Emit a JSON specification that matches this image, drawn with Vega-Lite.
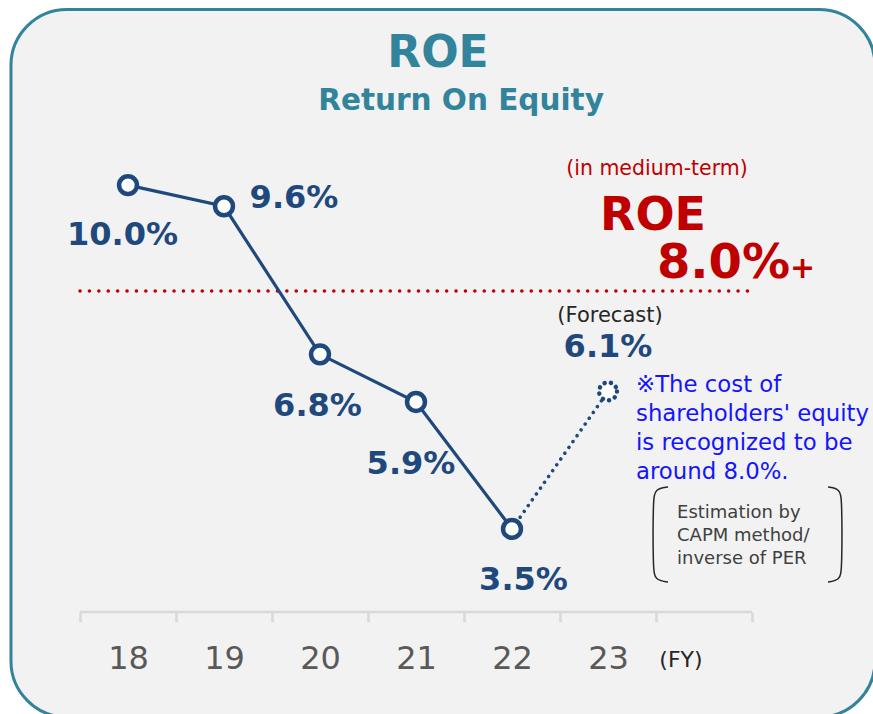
{
  "$schema": "https://vega.github.io/schema/vega-lite/v6.json",
  "width": 873,
  "height": 714,
  "autosize": {"type": "fit", "contains": "padding"},
  "padding": 0,
  "background": "#ffffff",
  "config": {"view": {"stroke": null}, "font": "DejaVu Sans"},
  "datasets": {
    "roe": [
      {"fy": 18, "roe": 10.0, "label": "10.0%"},
      {"fy": 19, "roe": 9.6, "label": "9.6%"},
      {"fy": 20, "roe": 6.8, "label": "6.8%"},
      {"fy": 21, "roe": 5.9, "label": "5.9%"},
      {"fy": 22, "roe": 3.5, "label": "3.5%"},
      {"fy": 23, "roe": 6.1, "label": "6.1%"}
    ],
    "one": [{"k": 1}]
  },
  "data": {"name": "roe"},
  "layer": [
    {
      "data": {"name": "one"},
      "mark": {"type": "rect", "cornerRadius": 56, "fill": "#f2f2f2", "stroke": "#31849b", "strokeWidth": 3, "clip": true},
      "encoding": {
        "x": {"datum": 16.781, "type": "quantitative", "scale": {"domain": [16.666667, 25.760417], "nice": false, "zero": false}},
        "x2": {"datum": 25.781},
        "y": {"datum": 13.32, "type": "quantitative", "scale": {"domain": [0, 13.5], "nice": false, "zero": false}, "axis": null},
        "y2": {"datum": -0.057}
      }
    },
    {
      "data": {"name": "one"},
      "mark": {"type": "rule", "stroke": "#d9d9d9", "strokeWidth": 2.5},
      "encoding": {
        "x": {"datum": 17.5, "type": "quantitative"},
        "x2": {"datum": 24.5},
        "y": {"datum": 1.9286, "type": "quantitative", "axis": null}
      }
    },
    {
      "data": {"name": "one"},
      "mark": {"type": "rule", "stroke": "#c00000", "strokeWidth": 3.5, "strokeDash": [0.1, 9.3], "strokeCap": "round"},
      "encoding": {
        "x": {"datum": 17.5, "type": "quantitative"},
        "x2": {"datum": 24.5},
        "y": {"datum": 8, "type": "quantitative", "axis": null}
      }
    },
    {
      "transform": [{"filter": "datum.fy <= 22"}],
      "mark": {"type": "line", "stroke": "#1f497d", "strokeWidth": 3.2},
      "encoding": {
        "x": {
          "field": "fy",
          "type": "quantitative",
          "axis": {
            "values": [18, 19, 20, 21, 22, 23, 24, 25],
            "format": "d",
            "tickOffset": -48,
            "labelOffset": 48,
            "labelExpr": "datum.value <= 23 ? datum.label : ''",
            "offset": -102,
            "zindex": 1,
            "domain": false,
            "grid": false,
            "ticks": true,
            "tickSize": 10,
            "tickColor": "#d9d9d9",
            "tickWidth": 2.5,
            "labelFontSize": 32,
            "labelColor": "#595959",
            "labelFont": "DejaVu Sans",
            "labelPadding": 46,
            "labelBaseline": "alphabetic",
            "labelFlush": false,
            "labelOverlap": false,
            "labelBound": false,
            "title": null
          }
        },
        "y": {"field": "roe", "type": "quantitative", "axis": null}
      }
    },
    {
      "transform": [{"filter": "datum.fy >= 22"}],
      "mark": {"type": "line", "stroke": "#1f497d", "strokeWidth": 3.5, "strokeDash": [0.1, 7], "strokeCap": "round"},
      "encoding": {
        "x": {"field": "fy", "type": "quantitative"},
        "y": {"field": "roe", "type": "quantitative", "axis": null}
      }
    },
    {
      "transform": [{"filter": "datum.fy <= 22"}],
      "mark": {"type": "point", "filled": true, "fill": "#ffffff", "stroke": "#1f497d", "strokeWidth": 4.5, "size": 320, "opacity": 1},
      "encoding": {
        "x": {"field": "fy", "type": "quantitative"},
        "y": {"field": "roe", "type": "quantitative", "axis": null}
      }
    },
    {
      "transform": [{"filter": "datum.fy == 23"}],
      "mark": {"type": "point", "filled": true, "fill": "#ffffff", "stroke": "#1f497d", "strokeWidth": 4.5, "size": 320, "opacity": 1, "strokeDash": [0.1, 6.3], "strokeCap": "round"},
      "encoding": {
        "x": {"field": "fy", "type": "quantitative"},
        "y": {"field": "roe", "type": "quantitative", "axis": null}
      }
    },
    {
      "transform": [{"filter": "datum.fy == 18"}],
      "mark": {"type": "text", "font": "DejaVu Sans", "fontWeight": "bold", "fontSize": 32, "fill": "#1f497d", "align": "center", "baseline": "alphabetic", "dx": -5.5, "dy": 60},
      "encoding": {
        "x": {"field": "fy", "type": "quantitative"},
        "y": {"field": "roe", "type": "quantitative", "axis": null},
        "text": {"field": "label"}
      }
    },
    {
      "transform": [{"filter": "datum.fy == 19"}],
      "mark": {"type": "text", "font": "DejaVu Sans", "fontWeight": "bold", "fontSize": 32, "fill": "#1f497d", "align": "center", "baseline": "alphabetic", "dx": 70, "dy": 2},
      "encoding": {
        "x": {"field": "fy", "type": "quantitative"},
        "y": {"field": "roe", "type": "quantitative", "axis": null},
        "text": {"field": "label"}
      }
    },
    {
      "transform": [{"filter": "datum.fy == 20"}],
      "mark": {"type": "text", "font": "DejaVu Sans", "fontWeight": "bold", "fontSize": 32, "fill": "#1f497d", "align": "center", "baseline": "alphabetic", "dx": -2.5, "dy": 61.5},
      "encoding": {
        "x": {"field": "fy", "type": "quantitative"},
        "y": {"field": "roe", "type": "quantitative", "axis": null},
        "text": {"field": "label"}
      }
    },
    {
      "transform": [{"filter": "datum.fy == 21"}],
      "mark": {"type": "text", "font": "DejaVu Sans", "fontWeight": "bold", "fontSize": 32, "fill": "#1f497d", "align": "center", "baseline": "alphabetic", "dx": -5, "dy": 72},
      "encoding": {
        "x": {"field": "fy", "type": "quantitative"},
        "y": {"field": "roe", "type": "quantitative", "axis": null},
        "text": {"field": "label"}
      }
    },
    {
      "transform": [{"filter": "datum.fy == 22"}],
      "mark": {"type": "text", "font": "DejaVu Sans", "fontWeight": "bold", "fontSize": 32, "fill": "#1f497d", "align": "center", "baseline": "alphabetic", "dx": 11.5, "dy": 61},
      "encoding": {
        "x": {"field": "fy", "type": "quantitative"},
        "y": {"field": "roe", "type": "quantitative", "axis": null},
        "text": {"field": "label"}
      }
    },
    {
      "transform": [{"filter": "datum.fy == 23"}],
      "mark": {"type": "text", "font": "DejaVu Sans", "fontWeight": "bold", "fontSize": 32, "fill": "#1f497d", "align": "center", "baseline": "alphabetic", "dx": 0, "dy": -34},
      "encoding": {
        "x": {"field": "fy", "type": "quantitative"},
        "y": {"field": "roe", "type": "quantitative", "axis": null},
        "text": {"field": "label"}
      }
    },
    {
      "transform": [{"filter": "datum.fy == 23"}],
      "mark": {"type": "text", "font": "DejaVu Sans", "fontSize": 21, "fill": "#262626", "align": "center", "baseline": "alphabetic", "dx": 2, "dy": -69, "text": "(Forecast)"},
      "encoding": {
        "x": {"field": "fy", "type": "quantitative"},
        "y": {"field": "roe", "type": "quantitative", "axis": null}
      }
    },
    {
      "data": {"name": "one"},
      "mark": {"type": "text", "font": "DejaVu Sans", "fontWeight": "bold", "fontSize": 44, "fill": "#31849b", "align": "center", "baseline": "alphabetic", "text": "ROE"},
      "encoding": {
        "x": {"datum": 21.229, "type": "quantitative"},
        "y": {"datum": 12.233, "type": "quantitative", "axis": null}
      }
    },
    {
      "data": {"name": "one"},
      "mark": {"type": "text", "font": "DejaVu Sans", "fontWeight": "bold", "fontSize": 29.5, "fill": "#31849b", "align": "center", "baseline": "alphabetic", "text": "Return On Equity"},
      "encoding": {
        "x": {"datum": 21.469, "type": "quantitative"},
        "y": {"datum": 11.42, "type": "quantitative", "axis": null}
      }
    },
    {
      "data": {"name": "one"},
      "mark": {"type": "text", "font": "DejaVu Sans", "fontSize": 20.5, "fill": "#c00000", "align": "center", "baseline": "alphabetic", "text": "(in medium-term)"},
      "encoding": {
        "x": {"datum": 23.51, "type": "quantitative"},
        "y": {"datum": 10.191, "type": "quantitative", "axis": null}
      }
    },
    {
      "data": {"name": "one"},
      "mark": {"type": "text", "font": "DejaVu Sans", "fontWeight": "bold", "fontSize": 46, "fill": "#c00000", "align": "center", "baseline": "alphabetic", "text": "ROE"},
      "encoding": {
        "x": {"datum": 23.469, "type": "quantitative"},
        "y": {"datum": 9.151, "type": "quantitative", "axis": null}
      }
    },
    {
      "data": {"name": "one"},
      "mark": {"type": "text", "font": "DejaVu Sans", "fontWeight": "bold", "fontSize": 48, "fill": "#c00000", "align": "right", "baseline": "alphabetic", "text": "8.0%"},
      "encoding": {
        "x": {"datum": 24.896, "type": "quantitative"},
        "y": {"datum": 8.244, "type": "quantitative", "axis": null}
      }
    },
    {
      "data": {"name": "one"},
      "mark": {"type": "text", "font": "DejaVu Sans", "fontWeight": "bold", "fontSize": 30, "fill": "#c00000", "align": "left", "baseline": "alphabetic", "text": "+"},
      "encoding": {
        "x": {"datum": 24.896, "type": "quantitative"},
        "y": {"datum": 8.244, "type": "quantitative", "axis": null}
      }
    },
    {
      "data": {"name": "one"},
      "mark": {"type": "text", "font": "DejaVu Sans", "fontSize": 22.8, "fill": "#1414ff", "align": "left", "baseline": "alphabetic", "lineHeight": 29, "text": ["※The cost of", "shareholders' equity", "is recognized to be", "around 8.0%."]},
      "encoding": {
        "x": {"datum": 23.292, "type": "quantitative"},
        "y": {"datum": 6.088, "type": "quantitative", "axis": null}
      }
    },
    {
      "data": {"name": "one"},
      "mark": {"type": "text", "font": "DejaVu Sans", "fontSize": 18, "fill": "#404040", "align": "left", "baseline": "alphabetic", "lineHeight": 23, "text": ["Estimation by", "CAPM method/", "inverse of PER"]},
      "encoding": {
        "x": {"datum": 23.719, "type": "quantitative"},
        "y": {"datum": 3.706, "type": "quantitative", "axis": null}
      }
    },
    {
      "data": {"values": [
        {"b": "L", "i": 0, "bx": 23.625, "by": 4.292},
        {"b": "L", "i": 1, "bx": 23.49, "by": 4.254},
        {"b": "L", "i": 2, "bx": 23.469, "by": 4.046},
        {"b": "L", "i": 3, "bx": 23.469, "by": 2.742},
        {"b": "L", "i": 4, "bx": 23.49, "by": 2.534},
        {"b": "L", "i": 5, "bx": 23.625, "by": 2.496},
        {"b": "R", "i": 0, "bx": 25.292, "by": 4.292},
        {"b": "R", "i": 1, "bx": 25.4167, "by": 4.254},
        {"b": "R", "i": 2, "bx": 25.4375, "by": 4.046},
        {"b": "R", "i": 3, "bx": 25.4375, "by": 2.742},
        {"b": "R", "i": 4, "bx": 25.4167, "by": 2.534},
        {"b": "R", "i": 5, "bx": 25.292, "by": 2.496}
      ]},
      "mark": {"type": "line", "stroke": "#262626", "strokeWidth": 1.5, "interpolate": "basis"},
      "encoding": {
        "x": {"field": "bx", "type": "quantitative"},
        "y": {"field": "by", "type": "quantitative", "axis": null},
        "detail": {"field": "b"},
        "order": {"field": "i"}
      }
    },
    {
      "data": {"name": "one"},
      "mark": {"type": "text", "font": "DejaVu Sans", "fontSize": 22, "fill": "#262626", "align": "center", "baseline": "alphabetic", "text": "(FY)"},
      "encoding": {
        "x": {"datum": 23.76, "type": "quantitative"},
        "y": {"datum": 0.889, "type": "quantitative", "axis": null}
      }
    }
  ]
}
